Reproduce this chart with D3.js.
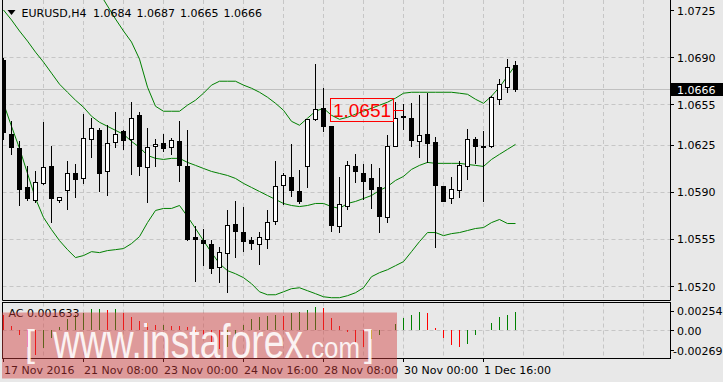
<!doctype html>
<html lang="en">
  <head>
    <meta charset="UTF-8" />
    <title>EURUSD H4</title>
    <script src="https://d3js.org/d3.v7.min.js"></script>
    <style>
      body { margin: 0; background: #e8e8e8; }
      svg { display: block; font-family: "DejaVu Sans", sans-serif; }
    </style>
  </head>
  <body>
    <svg id="chart" width="723" height="382"></svg>
    <script>
    // H4 candles, left to right (65 bars)
    var open = [1.06878,1.06332,1.06227,1.05939,1.05840,1.05966,1.06093,1.05840,1.05914,1.06036,
                1.06004,1.06294,1.06361,1.06053,1.06269,1.06349,1.06291,1.06468,1.06086,1.06239,
                1.06264,1.06232,1.06274,1.06095,1.05566,1.05544,1.05514,1.05343,1.05445,1.05663,
                1.05601,1.05544,1.05512,1.05546,1.05680,1.05949,1.06013,1.05902,1.06090,1.06440,
                1.06525,1.06388,1.05646,1.05797,1.06095,1.06043,1.06001,1.05939,1.05711,1.06239,
                1.06466,1.06451,1.06274,1.06332,1.06272,1.05946,1.05855,1.05914,1.06093,1.06289,
                1.06237,1.06237,1.06592,1.06679,1.0684];
    var high = [1.06893,1.06423,1.06274,1.06088,1.06053,1.06416,1.06237,1.05864,1.06125,1.06103,
                1.06475,1.06451,1.06376,1.06393,1.06490,1.06361,1.06565,1.06492,1.06376,1.06291,
                1.06332,1.06296,1.06423,1.06356,1.05646,1.05624,1.05542,1.05492,1.05765,1.05834,
                1.05785,1.05561,1.05601,1.05768,1.06132,1.06038,1.06257,1.06058,1.06438,1.06848,
                1.06667,1.06388,1.06013,1.06132,1.06182,1.06103,1.06103,1.06075,1.06319,1.06567,
                1.06555,1.06562,1.06615,1.06634,1.06306,1.05946,1.06013,1.06127,1.06366,1.06306,
                1.06351,1.06610,1.06741,1.06883,1.0687];
    var low = [1.06289,1.06177,1.05802,1.05840,1.05822,1.05960,1.05673,1.05822,1.05770,1.05859,
               1.05963,1.06157,1.05909,1.05879,1.06232,1.06220,1.06033,1.06021,1.05822,1.06088,
               1.06200,1.06179,1.05978,1.05540,1.05238,1.05358,1.05293,1.05226,1.05159,1.05412,
               1.05462,1.05475,1.05367,1.05479,1.05661,1.05810,1.05867,1.05820,1.05934,1.06430,
               1.06351,1.05606,1.05599,1.05773,1.05971,1.05847,1.05777,1.05604,1.05678,1.06239,
               1.06369,1.06240,1.06157,1.06120,1.05487,1.05830,1.05820,1.05859,1.05996,1.06112,
               1.05829,1.06232,1.06555,1.06641,1.0665];
    var close = [1.06341,1.06232,1.05919,1.05852,1.05974,1.06086,1.05852,1.05860,1.06041,1.05993,
                 1.06302,1.06376,1.06038,1.06264,1.06332,1.06287,1.06451,1.06090,1.06235,1.06257,
                 1.06224,1.06287,1.06100,1.05546,1.05546,1.05516,1.05330,1.05455,1.05653,1.05606,
                 1.05531,1.05519,1.05564,1.05676,1.05944,1.06028,1.05914,1.05829,1.06438,1.06518,
                 1.06388,1.05653,1.05810,1.06100,1.06053,1.05978,1.05919,1.05718,1.06237,1.06451,
                 1.06460,1.06287,1.06324,1.06264,1.05949,1.05834,1.05924,1.06100,1.06294,1.06240,
                 1.06232,1.06604,1.06697,1.06823,1.0666];

    // Bollinger bands as drawn (upper band is above the chart for the first bars)
    var bbUpper = [null,null,null,null,null,null,null,null,null,null,null,null,
                   1.07377,1.07280,1.07183,1.07094,1.07012,1.06885,1.06677,1.06535,1.06498,1.06498,
                   1.06498,1.06543,1.06580,1.06632,1.06692,1.06721,1.06721,1.06721,1.06692,1.06669,
                   1.06639,1.06602,1.06557,1.06505,1.06423,1.06394,1.06446,1.06498,1.06520,1.06468,
                   1.06438,1.06453,1.06476,1.06498,1.06520,1.06543,1.06565,1.06595,1.06632,1.06639,
                   1.06639,1.06639,1.06639,1.06639,1.06639,1.06632,1.06624,1.06587,1.06557,1.06610,
                   1.06677,1.06759,1.06840];
    var bbMiddle = [1.07250,1.07176,1.07094,1.07019,1.06937,1.06863,1.06781,1.06699,1.06639,1.06580,
                    1.06528,1.06461,1.06416,1.06386,1.06356,1.06327,1.06274,1.06230,1.06170,1.06148,
                    1.06140,1.06148,1.06148,1.06118,1.06096,1.06073,1.06051,1.06036,1.06021,1.05999,
                    1.05962,1.05932,1.05902,1.05872,1.05843,1.05813,1.05798,1.05790,1.05798,1.05813,
                    1.05813,1.05790,1.05776,1.05813,1.05828,1.05850,1.05872,1.05910,1.05939,1.05984,
                    1.06014,1.06066,1.06096,1.06118,1.06111,1.06111,1.06111,1.06111,1.06103,1.06096,
                    1.06088,1.06140,1.06178,1.06215,1.06252];
    var bbLower = [1.06557,1.06386,1.06222,1.06036,1.05850,1.05709,1.05619,1.05537,1.05470,1.05411,
                   1.05426,1.05455,1.05448,1.05463,1.05470,1.05478,1.05515,1.05567,1.05671,1.05761,
                   1.05776,1.05776,1.05798,1.05716,1.05627,1.05537,1.05448,1.05366,1.05314,1.05291,
                   1.05262,1.05217,1.05157,1.05135,1.05135,1.05157,1.05180,1.05187,1.05165,1.05143,
                   1.05120,1.05113,1.05113,1.05128,1.05150,1.05187,1.05269,1.05299,1.05321,1.05351,
                   1.05381,1.05455,1.05530,1.05597,1.05597,1.05574,1.05589,1.05597,1.05612,1.05627,
                   1.05634,1.05671,1.05694,1.05664,1.05664];

    // Accelerator oscillator
    var ac = [0.00138,0.00035,-0.00050,-0.00160,-0.00238,-0.00172,-0.00078,0.00023,0.00101,0.00138,
              0.00154,0.00195,0.00200,0.00186,0.00195,0.00154,0.00117,0.00085,0.00066,0.00044,
              0.00049,0.00040,0.00035,0.00025,-0.00031,-0.00066,-0.00116,-0.00182,-0.00163,-0.00069,
              0.00044,0.00101,0.00122,0.00132,0.00138,0.00129,0.00154,0.00164,0.00186,0.00217,
              0.00202,0.00107,0.00035,-0.00024,-0.00128,-0.00160,-0.00090,-0.00050,0.00002,0.00054,
              0.00107,0.00138,0.00164,0.00154,0.00013,-0.00075,-0.00144,-0.00160,-0.00138,-0.00050,
              -0.00006,0.00060,0.00117,0.00138,0.001633];

    var priceTicks = [1.0725, 1.0690, 1.0655, 1.0625, 1.0590, 1.0555, 1.0520];
    var acTicks = [0.002548, 0, -0.00269];
    var acTickLabels = ["0.002548", "0.00", "-0.00269"];
    var timeBars = [0, 10, 20, 30, 40, 50, 60];
    var timeLabels = ["17 Nov 2016", "21 Nov 08:00", "23 Nov 00:00", "24 Nov 16:00",
                      "28 Nov 08:00", "30 Nov 00:00", "1 Dec 16:00"];
    var bidPrice = 1.0666;
    var markBar = 50, markPrice = 1.0651;

    var left = 2.5, right = 670.5, mainBottom = 300.5, acTop = 302.5, acBottom = 358.5;
    var svg = d3.select("#chart");

    var x = d3.scaleLinear().domain([0, 1]).range([3.5, 11.5]);
    var y = d3.scaleLinear().domain([1.0520, 1.0725]).range([286, 10]);
    var yAc = d3.scaleLinear().domain([-0.00269, 0.002548]).range([358.3, 302.7]);
    function px(v) { return Math.round(v) + 0.5; }

    svg.append("rect").attr("width", 723).attr("height", 382).attr("fill", "#e8e8e8");

    svg.append("clipPath").attr("id", "mainClip")
       .append("rect").attr("x", 3).attr("y", 0).attr("width", 667).attr("height", 300);

    // grid
    var grid = svg.append("g").attr("stroke", "#c6c6c6").attr("stroke-dasharray", "4,3");
    d3.range(5, 81, 5).forEach(function(k) {
        grid.append("line").attr("x1", x(k)).attr("x2", x(k)).attr("y1", 0).attr("y2", mainBottom);
        grid.append("line").attr("x1", x(k)).attr("x2", x(k)).attr("y1", acTop).attr("y2", acBottom);
    });
    priceTicks.slice(1).forEach(function(p) {
        grid.append("line").attr("x1", left).attr("x2", right).attr("y1", px(y(p))).attr("y2", px(y(p)));
    });
    grid.append("line").attr("x1", left).attr("x2", right)
        .attr("y1", px(yAc(0))).attr("y2", px(yAc(0)));

    var plot = svg.append("g").attr("clip-path", "url(#mainClip)");

    // bid line
    plot.append("line").attr("x1", left).attr("x2", right)
        .attr("y1", px(y(bidPrice))).attr("y2", px(y(bidPrice)))
        .attr("stroke", "#c0c0c0");

    // bollinger bands
    var line = d3.line().defined(function(d) { return d != null; })
        .x(function(d, i) { return x(i); }).y(function(d) { return y(d); });
    [bbUpper, bbMiddle, bbLower].forEach(function(s) {
        plot.append("path").attr("d", line(s)).attr("fill", "none")
            .attr("stroke", "#008000").attr("stroke-width", 1);
    });

    // candles
    var candles = plot.selectAll(".candle").data(open).enter().append("g").attr("class", "candle");
    candles.append("line")
        .attr("x1", function(d, i) { return x(i); }).attr("x2", function(d, i) { return x(i); })
        .attr("y1", function(d, i) { return Math.round(y(high[i])); })
        .attr("y2", function(d, i) { return Math.round(y(low[i])) + 1; })
        .attr("stroke", "#000");
    candles.append("rect")
        .attr("x", function(d, i) { return x(i) - 2; })
        .attr("width", 4)
        .attr("y", function(d, i) { return Math.round(y(Math.max(d, close[i]))) + 0.5; })
        .attr("height", function(d, i) {
            return Math.max(1, Math.round(y(Math.min(d, close[i]))) - Math.round(y(Math.max(d, close[i]))));
        })
        .attr("fill", function(d, i) { return close[i] >= d ? "#fff" : "#000"; })
        .attr("stroke", "#000");

    // price mark label
    var my = y(markPrice);
    plot.append("rect").attr("x", 330.5).attr("y", px(my - 12)).attr("width", 63).attr("height", 23)
        .attr("fill", "none").attr("stroke", "#f00");
    plot.append("line").attr("x1", 393.5).attr("x2", x(markBar)).attr("y1", px(my)).attr("y2", px(my))
        .attr("stroke", "#f00");
    plot.append("text").attr("x", 362).attr("y", my + 7.5).attr("text-anchor", "middle")
        .style("font-family", "'Liberation Sans', Arial, sans-serif").style("font-size", "19px")
        .attr("fill", "#f00").text(markPrice.toFixed(4));

    // AC histogram
    svg.append("g").selectAll("line").data(ac).enter().append("line")
        .attr("x1", function(d, i) { return x(i); }).attr("x2", function(d, i) { return x(i); })
        .attr("y1", px(yAc(0)) - 0.5)
        .attr("y2", function(d) { return Math.round(yAc(d)); })
        .attr("stroke", function(d, i) { return i > 0 && d >= ac[i - 1] ? "#008000" : "#f00"; });

    // frames
    var frame = svg.append("g").attr("stroke", "#000").attr("fill", "none");
    frame.append("path").attr("d", "M" + left + ",0V" + mainBottom + "H" + right + "V0");
    frame.append("rect").attr("x", left).attr("y", acTop)
        .attr("width", right - left).attr("height", acBottom - acTop);

    // right price axis
    var axisR = svg.append("g").style("font-size", "11px");
    priceTicks.forEach(function(p) {
        axisR.append("line").attr("x1", right).attr("x2", 674).attr("y1", px(y(p))).attr("y2", px(y(p)))
            .attr("stroke", "#000");
        axisR.append("text").attr("x", 677).attr("y", y(p) + 4.5).attr("fill", "#000")
            .text(p.toFixed(4));
    });
    axisR.append("rect").attr("x", 671).attr("y", Math.round(y(bidPrice)) - 6)
        .attr("width", 52).attr("height", 13).attr("fill", "#000");
    axisR.append("text").attr("x", 677).attr("y", y(bidPrice) + 4.5).attr("fill", "#fff")
        .text(bidPrice.toFixed(4));

    acTicks.forEach(function(v, i) {
        var ty = [310.5, 330, 350][i];
        axisR.append("line").attr("x1", right).attr("x2", 674).attr("y1", px(ty)).attr("y2", px(ty))
            .attr("stroke", "#000");
        axisR.append("text").attr("x", v < 0 ? 673 : 677).attr("y", ty + 4.5).attr("fill", "#000")
            .text(acTickLabels[i]);
    });

    // time axis
    timeBars.forEach(function(k, i) {
        axisR.append("line").attr("x1", x(k)).attr("x2", x(k)).attr("y1", acBottom).attr("y2", 362)
            .attr("stroke", "#000");
        axisR.append("text").attr("x", x(k) + 0.5).attr("y", 373.5).attr("fill", "#000")
            .text(timeLabels[i]);
    });

    // header texts
    svg.append("path").attr("d", "M7.5,10H15.5L11.5,15Z").attr("fill", "#000");
    var head = svg.append("g").style("font-size", "11px").attr("fill", "#000");
    head.append("text").attr("x", 21.5).attr("y", 16.5).text("EURUSD,H4");
    var last = open.length - 1;
    [open[last], high[last], low[last], close[last]].forEach(function(v, i) {
        head.append("text").attr("x", 93 + i * 43.5).attr("y", 16.5).text(v.toFixed(4));
    });
    head.append("text").attr("x", 8.5).attr("y", 317).text("AC " + ac[last].toFixed(6));

    // watermark
    var wm = svg.append("g");
    wm.append("rect").attr("x", 2).attr("y", 312.5).attr("width", 395).attr("height", 66)
        .attr("fill", "#d23c3c").attr("opacity", 0.45);
    var wt = wm.append("g").attr("fill", "#fff").attr("opacity", 0.88)
        .style("font-family", "'Liberation Sans', Arial, sans-serif");
    wt.append("text").attr("x", 25).attr("y", 356).style("font-size", "36px").text("[");
    wt.append("text").attr("x", 53).attr("y", 358).style("font-size", "48px")
        .attr("textLength", 250).attr("lengthAdjust", "spacingAndGlyphs").text("www.instaforex");
    wt.append("text").attr("x", 304).attr("y", 358).style("font-size", "29px")
        .attr("textLength", 56).attr("lengthAdjust", "spacingAndGlyphs").text(".com");
    wt.append("text").attr("x", 364).attr("y", 356).style("font-size", "36px").text("]");
    </script>
  </body>
</html>
